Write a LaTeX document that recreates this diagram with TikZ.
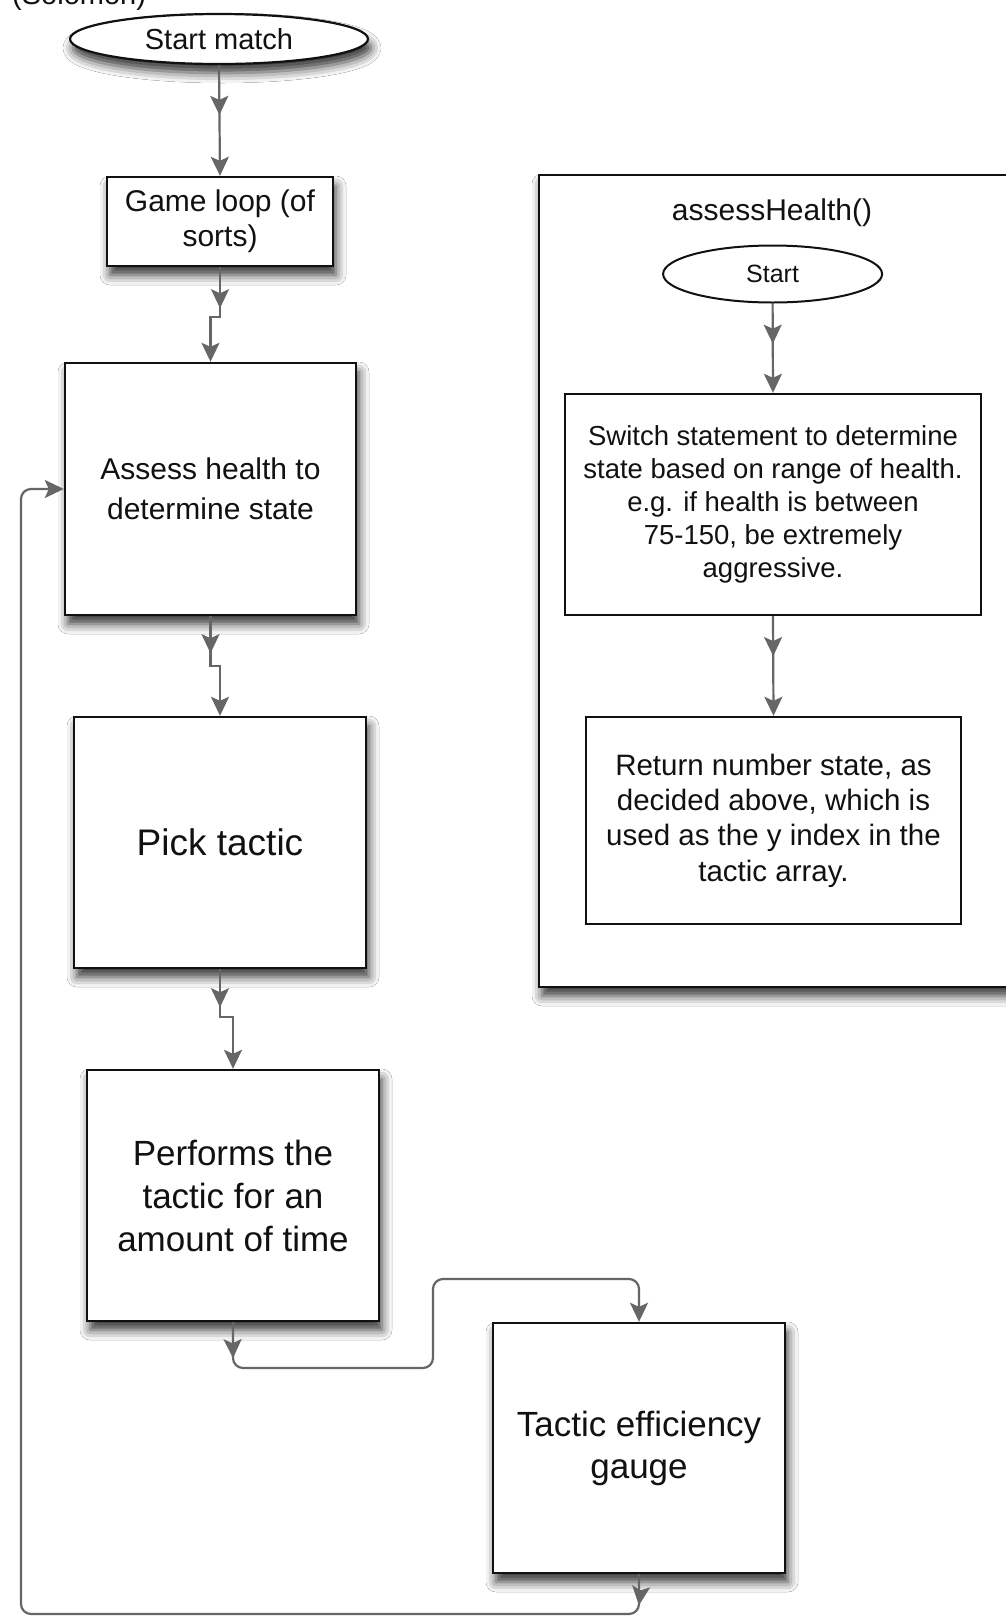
\documentclass[tikz,border=0pt]{standalone}
\usepackage{fontspec}
\setmainfont{Liberation Sans}
\usetikzlibrary{arrows.meta,shapes.geometric,decorations.markings,shadows.blur,calc}

\definecolor{linkgray}{HTML}{666666}
\definecolor{inkblack}{HTML}{111111}

\tikzset{
  softshadow/.style={blur shadow={shadow xshift=3pt, shadow yshift=-9pt, shadow blur radius=10pt, shadow opacity=80}},
  box/.style={rectangle, draw=inkblack, line width=2.4pt, fill=white, inner sep=0pt,
              align=center, text=inkblack, softshadow},
  oval/.style={ellipse, draw=inkblack, line width=2.2pt, fill=white, inner sep=0pt,
               text=inkblack, softshadow},
  tiphead/.tip={Stealth[length=19pt, width=18pt, inset=4pt]},
  link/.style={color=linkgray, line width=2.2pt, -tiphead},
  midtip/.style={postaction={decorate},
    decoration={markings, mark=at position #1 with {\arrow{tiphead}}}},
}

\begin{document}
\begin{tikzpicture}[x=1pt, y=-1pt]
  \useasboundingbox (0,0) rectangle (1006,1618);
  \fill[white] (0,0) rectangle (1006,1618);

  % heading, mostly above the top edge
  \node[anchor=base west, inner sep=0pt, text=inkblack, font=\fontsize{29}{34}\selectfont]
    (heading) at (12,4) {(Solomon)};

  % main flow
  \node[oval, minimum width=298pt, minimum height=50pt, font=\fontsize{29}{34}\selectfont]
    (start) at (219,39) {Start match};
  \node[box, minimum width=226pt, minimum height=89pt, font=\fontsize{30}{35}\selectfont]
    (game) at (220,221.5) {Game loop (of\\sorts)};
  \node[box, minimum width=291pt, minimum height=252pt, font=\fontsize{30}{40}\selectfont]
    (assess) at (210.5,489) {Assess health to\\determine state};
  \node[box, minimum width=292pt, minimum height=251pt, font=\fontsize{37}{44}\selectfont]
    (pick) at (220,842.5) {Pick tactic};
  \node[box, minimum width=292pt, minimum height=251pt, font=\fontsize{35}{43}\selectfont]
    (perf) at (233,1195.5) {Performs the\\tactic for an\\amount of time};
  \node[box, minimum width=292pt, minimum height=250pt, font=\fontsize{35}{42}\selectfont]
    (gauge) at (639,1448) {Tactic efficiency\\gauge};

  % assessHealth() panel
  \node[box, minimum width=491pt, minimum height=812pt] (panel) at (784.5,581) {};
  \node[text=inkblack, inner sep=0pt, font=\fontsize{30}{35}\selectfont]
    (title) at (772,213) {assessHealth()};
  \node[ellipse, draw=inkblack, line width=2pt, fill=white, inner sep=0pt, text=inkblack,
        minimum width=219pt, minimum height=57pt, font=\fontsize{25}{30}\selectfont]
    (hstart) at (772.6,274) {Start};
  \node[rectangle, draw=inkblack, line width=2.4pt, fill=white, align=center, text=inkblack,
        minimum width=416pt, minimum height=221pt, font=\fontsize{27.5}{33}\selectfont]
    (switch) at (773,504.5) {Switch statement to determine\\state based on range of health.\\e.g. if health is between\\75-150, be extremely\\aggressive.};
  \node[rectangle, draw=inkblack, line width=2.4pt, fill=white, align=center, text=inkblack,
        minimum width=375pt, minimum height=207pt, font=\fontsize{29.5}{35.4}\selectfont]
    (ret) at (773.5,820.5) {Return number state, as\\decided above, which is\\used as the y index in the\\tactic array.};

  % bends of the routed connectors
  \coordinate (dip) at (433,1368);
  \coordinate (rise) at (433,1279);
  \coordinate (loopcorner) at (21,1614);

  % connectors
  \draw[link, midtip=0.45] (start.south) -- (game.north);
  \draw[link, midtip=41pt] (game.south) -- ++(0,50) -| (assess.north);
  \draw[link, midtip=37pt] (assess.south) -- ++(0,50) -| (pick.north);
  \draw[link, midtip=38pt] (pick.south) -- ++(0,48) -| (perf.north);
  \draw[link, midtip=36pt, rounded corners=10pt]
    (perf.south) |- (dip) -- (rise) -| (gauge.north);
  \draw[link, midtip=31pt, rounded corners=10pt]
    (gauge.south) |- (loopcorner) |- (assess.west);

  \draw[link, midtip=0.45] (hstart.south) -- (switch.north);
  \draw[link, midtip=0.4] (switch.south) -- (ret.north);
\end{tikzpicture}
\end{document}
